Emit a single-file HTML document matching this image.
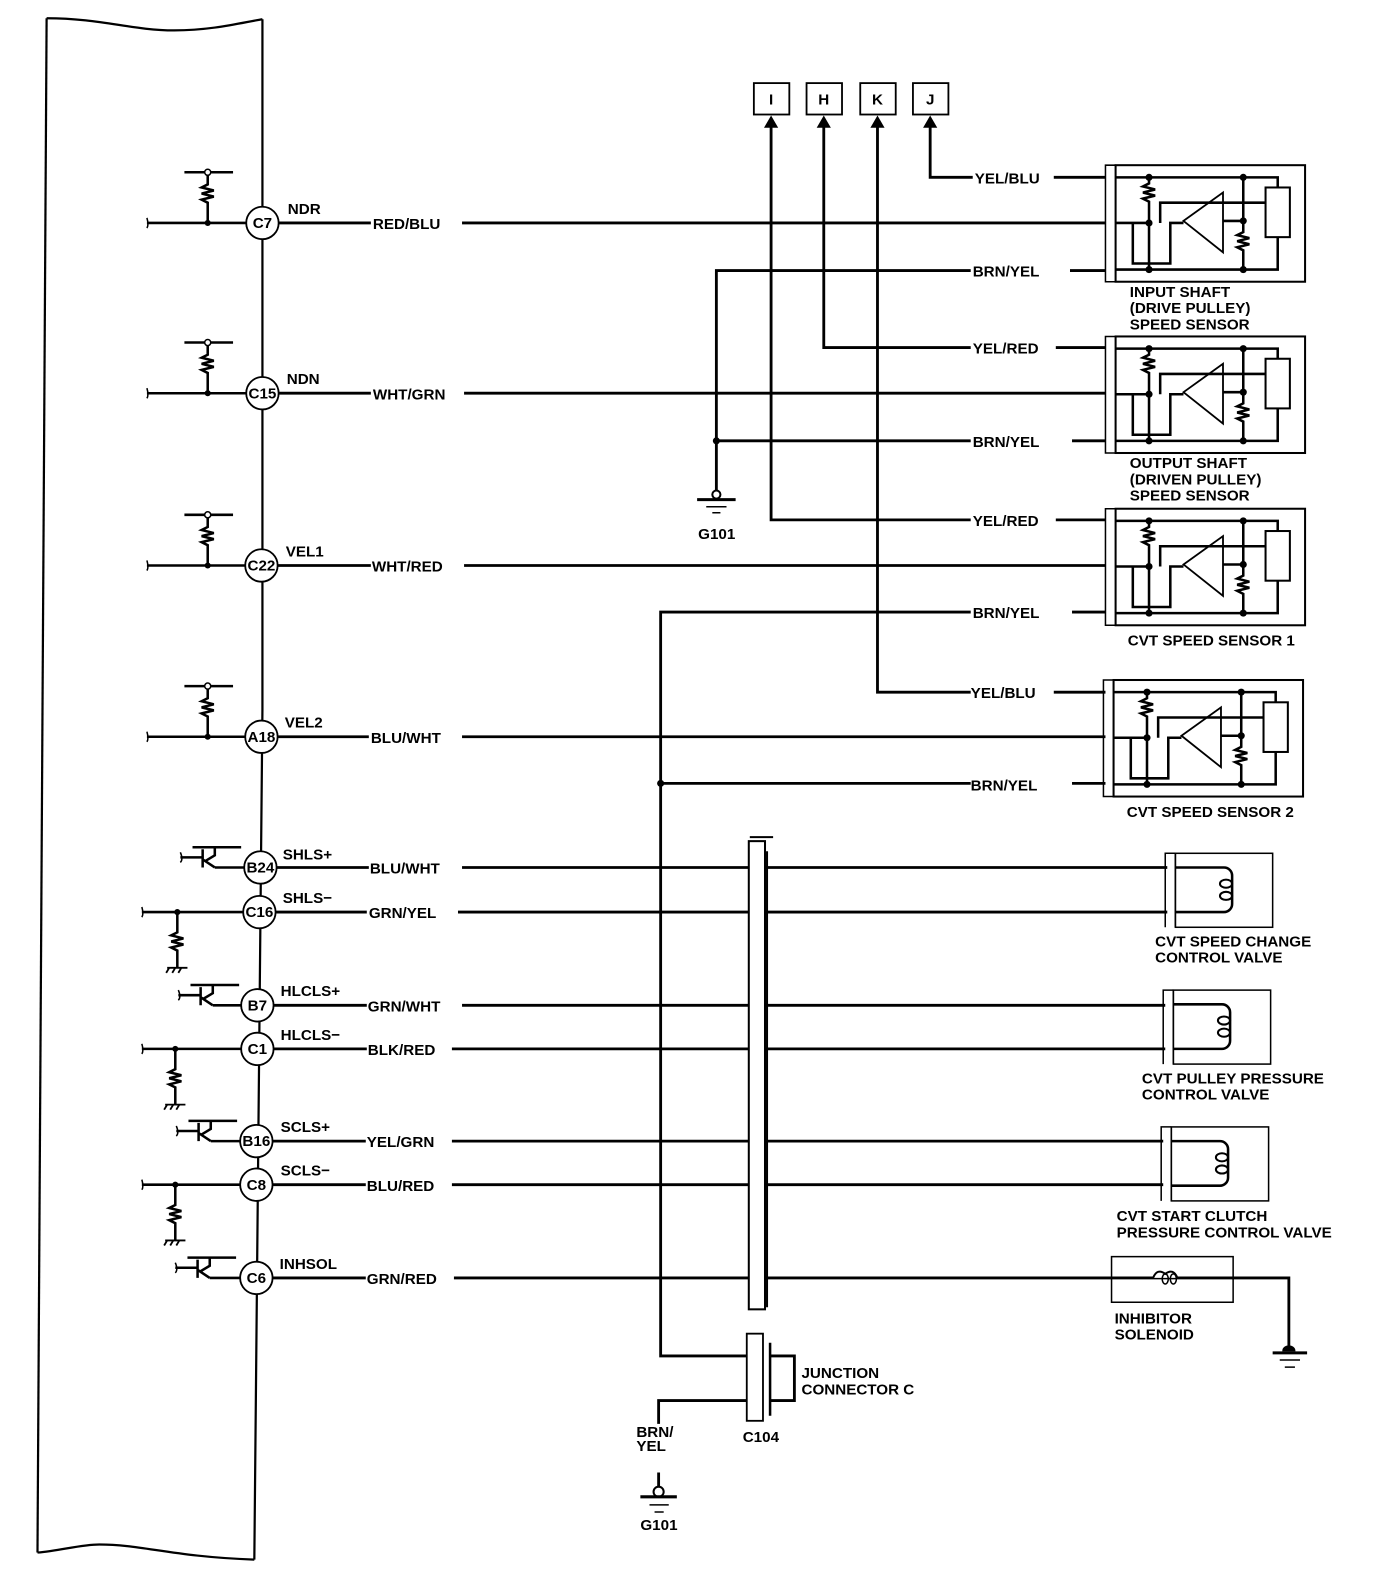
<!DOCTYPE html>
<html><head><meta charset="utf-8"><style>
html,body{margin:0;padding:0;background:#fff}
svg{display:block}
text{font-family:"Liberation Sans",Arial,sans-serif;font-weight:bold;font-size:15px;fill:#000}
</style></head><body>
<svg width="1376" height="1586" viewBox="0 0 1358 1565" preserveAspectRatio="none" xmlns="http://www.w3.org/2000/svg">
<defs>
<g id="sensor" fill="none" stroke="#000">
  <path d="M10,0 H0 V115 H10" stroke-width="1.5"/>
  <rect x="10" y="0" width="187" height="115" stroke-width="2"/>
  <path d="M10,12 H170 V22 M10,103 H170 V71" stroke-width="2.5"/>
  <rect x="158" y="22" width="24" height="49" stroke-width="2"/>
  <path d="M43,12 V18 l-6,3 12,3 -12,3 12,3 -12,3 6,3 V103" stroke-width="2.5"/>
  <path d="M136,12 V66 l-6,3 12,3 -12,3 12,3 -12,3 6,3 V103" stroke-width="2.5"/>
  <path d="M10,57 H27 V97 H64 V57 H77 M27,57 H43" stroke-width="2.5"/>
  <path d="M54,57 V37 H158 M116,55 H136" stroke-width="2.5"/>
  <path d="M77,55 L116,27 V86 Z" stroke-width="1.8"/>
  <g fill="#000" stroke="none"><circle cx="43" cy="12" r="3.5"/><circle cx="43" cy="57" r="3.5"/><circle cx="43" cy="103" r="3.5"/><circle cx="136" cy="12" r="3.5"/><circle cx="136" cy="55" r="3.5"/><circle cx="136" cy="103" r="3.5"/></g>
</g>
<g id="valve" fill="none" stroke="#000">
  <path d="M10,0 H0 V73 M10,0 V73" stroke-width="1.5"/>
  <rect x="10" y="0" width="96" height="73" stroke-width="1.5"/>
  <path d="M10,14 H58 A8,8 0 0 1 66,22 V50 A8,8 0 0 1 58,58 H10" stroke-width="2.5"/>
  <ellipse cx="60" cy="30" rx="6" ry="4" stroke-width="2"/>
  <ellipse cx="60" cy="42" rx="6" ry="4" stroke-width="2"/>
</g>
<g id="pullup" fill="none" stroke="#000">
  <path d="M-23,0 H25" stroke-width="2.5"/>
  <path d="M0,3 V12 l-6,3 12,3 -12,3 12,3 -12,3 6,3 V50" stroke-width="2.5"/>
  <circle cx="0" cy="0" r="3" fill="#fff" stroke-width="1.5"/>
  <circle cx="0" cy="50" r="3" fill="#000" stroke="none"/>
</g>
<g id="trans" fill="none" stroke="#000" stroke-width="2.5">
  <path d="M-10,-20 H38 M12,-20 V-12 L2,-6 M-22,-10 H0 M0,-18 V0 M0,-8 L12,0"/>
  <path d="M-22,-5 q3,-3 0,-10" stroke-width="1.5"/>
</g>
<g id="pulldn" fill="none" stroke="#000" stroke-width="2.5">
  <path d="M0,0 V20 l-6,3 12,3 -12,3 12,3 -12,3 6,3 V55"/>
  <path d="M-10,55 H10 M-8,55 l-3,5 M-2,55 l-3,5 M4,55 l-3,5" stroke-width="1.8"/>
  <circle cx="0" cy="0" r="3" fill="#000" stroke="none"/>
</g>
</defs>

<!-- ECM box -->
<g fill="none" stroke="#000" stroke-width="2.2">
  <path d="M46,18 L37,1532"/>
  <path d="M46,18 C100,18 130,30 172,30 C210,30 240,22 259,19"/>
  <path d="M259,19 L259,700 L251,1539"/>
  <path d="M37,1532 C60,1530 80,1524 98,1524 C140,1524 170,1536 251,1539"/>
</g>

<!-- top 4 rows -->
<g stroke="#000" fill="none" stroke-width="2.5">
  <path d="M145,220 H243 M145,388 H243 M145,558 H242 M145,727 H242"/>
  <path d="M145,225 q2,-3 0,-10 M145,393 q2,-3 0,-10 M145,563 q2,-3 0,-10 M145,732 q2,-3 0,-10" stroke-width="1.5"/>
</g>
<use href="#pullup" x="205" y="170"/>
<use href="#pullup" x="205" y="338"/>
<use href="#pullup" x="205" y="508"/>
<use href="#pullup" x="205" y="677"/>

<!-- transistor rows -->
<g stroke="#000" fill="none" stroke-width="2.5">
  <path d="M212,856 H241 M210,992 H238 M208,1126 H237 M207,1261 H238"/>
  <path d="M140,900 H240 M140,1035 H238 M140,1169 H238"/>
  <path d="M140,905 q2,-3 0,-10 M140,1040 q2,-3 0,-10 M140,1174 q2,-3 0,-10" stroke-width="1.5"/>
</g>
<use href="#trans" x="200" y="856"/>
<use href="#trans" x="198" y="992"/>
<use href="#trans" x="196" y="1126"/>
<use href="#trans" x="195" y="1261"/>
<use href="#pulldn" x="175" y="900"/>
<use href="#pulldn" x="173" y="1035"/>
<use href="#pulldn" x="173" y="1169"/>

<!-- connector circles -->
<g fill="#fff" stroke="#000" stroke-width="1.8">
  <circle cx="259" cy="220" r="16"/><circle cx="259" cy="388" r="16"/><circle cx="258" cy="558" r="16"/><circle cx="258" cy="727" r="16"/>
  <circle cx="257" cy="856" r="16"/><circle cx="256" cy="900" r="16"/><circle cx="254" cy="992" r="16"/><circle cx="254" cy="1035" r="16"/>
  <circle cx="253" cy="1126" r="16"/><circle cx="253" cy="1169" r="16"/><circle cx="253" cy="1261" r="16"/>
</g>
<g font-size="13" text-anchor="middle">
  <text x="259" y="225" font-size="14">C7</text><text x="259" y="393" font-size="13">C15</text><text x="258" y="563" font-size="13">C22</text><text x="258" y="732" font-size="13">A18</text>
  <text x="257" y="861" font-size="12">B24</text><text x="256" y="905" font-size="12">C16</text><text x="254" y="997" font-size="14">B7</text><text x="254" y="1040" font-size="14">C1</text>
  <text x="253" y="1131" font-size="12">B16</text><text x="253" y="1174" font-size="14">C8</text><text x="253" y="1266" font-size="14">C6</text>
</g>
<g>
  <text x="284" y="211">NDR</text><text x="283" y="379">NDN</text><text x="282" y="549">VEL1</text><text x="281" y="718">VEL2</text>
  <text x="279" y="848">SHLS+</text><text x="279" y="891">SHLS−</text><text x="277" y="983">HLCLS+</text><text x="277" y="1026">HLCLS−</text>
  <text x="277" y="1117">SCLS+</text><text x="277" y="1160">SCLS−</text><text x="276" y="1252">INHSOL</text>
</g>

<!-- main wires -->
<g stroke="#000" stroke-width="2.8" fill="none">
  <path d="M275,220 H366 M456,220 H1091"/>
  <path d="M275,388 H366 M458,388 H1091"/>
  <path d="M274,558 H366 M458,558 H1091"/>
  <path d="M274,727 H364 M456,727 H1091"/>
  <path d="M273,856 H364 M456,856 H1152"/>
  <path d="M272,900 H362 M452,900 H1152"/>
  <path d="M270,992 H362 M456,992 H1150"/>
  <path d="M270,1035 H362 M446,1035 H1150"/>
  <path d="M269,1126 H361 M446,1126 H1148"/>
  <path d="M269,1169 H361 M446,1169 H1148"/>
  <path d="M269,1261 H361 M448,1261 H1272 V1330"/>
</g>
<g>
  <text x="368" y="226">RED/BLU</text><text x="368" y="394">WHT/GRN</text><text x="367" y="564">WHT/RED</text><text x="366" y="733">BLU/WHT</text>
  <text x="365" y="862">BLU/WHT</text><text x="364" y="906">GRN/YEL</text><text x="363" y="998">GRN/WHT</text><text x="363" y="1041">BLK/RED</text>
  <text x="362" y="1132">YEL/GRN</text><text x="362" y="1175">BLU/RED</text><text x="362" y="1267">GRN/RED</text>
</g>

<!-- top connectors I H K J -->
<g fill="#fff" stroke="#000" stroke-width="1.8">
  <rect x="744" y="82" width="35" height="31"/><rect x="796" y="82" width="35" height="31"/><rect x="849" y="82" width="35" height="31"/><rect x="901" y="82" width="35" height="31"/>
</g>
<g text-anchor="middle" font-size="14"><text x="761" y="103">I</text><text x="813" y="103">H</text><text x="866" y="103">K</text><text x="918" y="103">J</text></g>
<g fill="#000"><path d="M761,114 l-7,12 h14z M813,114 l-7,12 h14z M866,114 l-7,12 h14z M918,114 l-7,12 h14z"/></g>
<g stroke="#000" stroke-width="2.8" fill="none">
  <path d="M761,124 V513 H958 M1042,513 H1091"/>
  <path d="M813,124 V343 H958 M1042,343 H1091"/>
  <path d="M866,124 V683 H958 M1040,683 H1091"/>
  <path d="M918,124 V175 H960 M1040,175 H1091"/>
  <path d="M958,267 H707 V485 M1056,267 H1091"/>
  <path d="M707,435 H958 M1058,435 H1091"/>
  <path d="M958,604 H652 V1338 H737 M1058,604 H1091"/>
  <path d="M652,773 H958 M1058,773 H1091"/>
</g>
<g fill="#000"><circle cx="707" cy="435" r="3.5"/><circle cx="652" cy="773" r="3.5"/></g>
<g>
  <text x="962" y="181">YEL/BLU</text><text x="960" y="273">BRN/YEL</text><text x="960" y="349">YEL/RED</text><text x="960" y="441">BRN/YEL</text>
  <text x="960" y="519">YEL/RED</text><text x="960" y="610">BRN/YEL</text><text x="958" y="689">YEL/BLU</text><text x="958" y="780">BRN/YEL</text>
</g>
<!-- ground G101 upper -->
<g stroke="#000" fill="none">
  <circle cx="707" cy="488" r="4" stroke-width="2" fill="#fff"/>
  <path d="M688,493 H726" stroke-width="3"/><path d="M697,500 H717 M703,506 H711" stroke-width="1.5"/>
</g>
<text x="689" y="532">G101</text>

<!-- sensors -->
<use href="#sensor" x="1091" y="163"/>
<use href="#sensor" x="1091" y="332"/>
<use href="#sensor" x="1091" y="502"/>
<use href="#sensor" x="1089" y="671"/>
<g font-size="14">
  <text x="1115" y="293">INPUT SHAFT</text><text x="1115" y="309">(DRIVE PULLEY)</text><text x="1115" y="325">SPEED SENSOR</text>
  <text x="1115" y="462">OUTPUT SHAFT</text><text x="1115" y="478">(DRIVEN PULLEY)</text><text x="1115" y="494">SPEED SENSOR</text>
  <text x="1113" y="637">CVT SPEED SENSOR 1</text><text x="1112" y="806">CVT SPEED SENSOR 2</text>
</g>

<!-- valves -->
<use href="#valve" x="1150" y="842"/>
<use href="#valve" x="1148" y="977"/>
<use href="#valve" x="1146" y="1112"/>
<g font-size="14">
  <text x="1140" y="934">CVT SPEED CHANGE</text><text x="1140" y="950">CONTROL VALVE</text>
  <text x="1127" y="1069">CVT PULLEY PRESSURE</text><text x="1127" y="1085">CONTROL VALVE</text>
  <text x="1102" y="1205">CVT START CLUTCH</text><text x="1102" y="1221">PRESSURE CONTROL VALVE</text>
  <text x="1100" y="1306">INHIBITOR</text><text x="1100" y="1322">SOLENOID</text>
</g>
<!-- inhibitor -->
<rect x="1097" y="1240" width="120" height="45" fill="none" stroke="#000" stroke-width="1.5"/>
<path d="M1138,1261 q4,-10 12,-4 q8,-6 12,4" fill="#fff" stroke="#000" stroke-width="2"/>
<ellipse cx="1150" cy="1262" rx="3" ry="5" fill="none" stroke="#000" stroke-width="1.5"/>
<ellipse cx="1158" cy="1262" rx="3" ry="5" fill="none" stroke="#000" stroke-width="1.5"/>
<g stroke="#000" fill="none">
  <path d="M1266,1333 a6,5 0 0 1 12,0z" fill="#000"/>
  <path d="M1256,1335 H1290" stroke-width="3"/><path d="M1263,1342 H1283 M1268,1349 H1278" stroke-width="1.5"/>
</g>

<!-- long connector bar -->
<path d="M740,826 H763" stroke="#000" stroke-width="2"/>
<rect x="739" y="830" width="16" height="462" fill="#fff" stroke="#000" stroke-width="2"/>
<path d="M757,840 V1290" stroke="#000" stroke-width="2"/>

<!-- junction connector C104 -->
<g stroke="#000" fill="none">
  <path d="M650,1405 V1382 H737" stroke-width="2.8"/>
  <path d="M760,1338 H784 V1382 H760" stroke-width="2.8"/>
  <rect x="737" y="1316" width="16" height="86" fill="#fff" stroke-width="1.8"/>
  <path d="M760,1325 V1397" stroke-width="2.5"/>
  <path d="M650,1453 V1470" stroke-width="2.8"/>
  <circle cx="650" cy="1472" r="5" fill="#fff" stroke-width="2"/>
  <path d="M632,1477 H668" stroke-width="3"/><path d="M641,1485 H660 M646,1492 H655" stroke-width="1.5"/>
</g>
<text x="791" y="1360">JUNCTION</text><text x="791" y="1376">CONNECTOR C</text>
<text x="733" y="1423">C104</text>
<text x="628" y="1418">BRN/</text><text x="628" y="1432">YEL</text>
<text x="632" y="1510">G101</text>
</svg>
</body></html>
